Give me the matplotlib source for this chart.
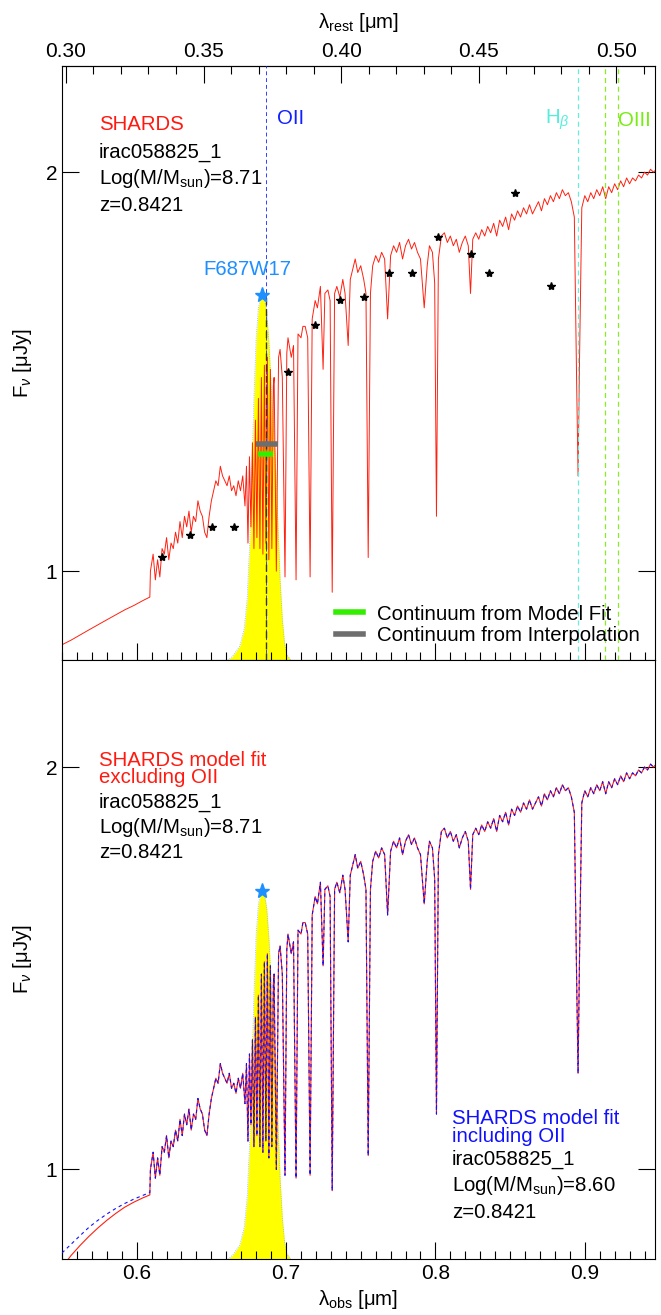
import numpy as np
import matplotlib
matplotlib.use('Agg')
import matplotlib.pyplot as plt
from matplotlib.ticker import MultipleLocator, FixedLocator, NullLocator, FormatStrFormatter
from matplotlib.lines import Line2D

plt.rcParams['font.family'] = ['Liberation Sans', 'DejaVu Sans']
plt.rcParams['mathtext.fontset'] = 'custom'
plt.rcParams['mathtext.rm'] = 'Liberation Sans'
plt.rcParams['mathtext.it'] = 'Liberation Sans:italic'
plt.rcParams['mathtext.bf'] = 'Liberation Sans:bold'

Z = 0.8421

# ---------------- data ----------------
spec_wl = [0.550, 0.556, 0.562, 0.568, 0.574, 0.580, 0.586, 0.592, 0.598, 0.604, 0.6088,
           0.6092, 0.611, 0.6125, 0.614, 0.6155, 0.617, 0.6185, 0.620, 0.6215, 0.623, 0.6245,
           0.626, 0.6275, 0.629, 0.6305, 0.632, 0.6335, 0.635, 0.6365, 0.638, 0.6395, 0.641,
           0.6425, 0.644, 0.6455, 0.647, 0.6485, 0.650, 0.6515, 0.653, 0.6545, 0.656, 0.6575,
           0.659, 0.6605, 0.662, 0.6635, 0.665, 0.6665, 0.668, 0.6695, 0.671,
           0.6725, 0.6735, 0.6745, 0.6755, 0.6765, 0.6775, 0.6785, 0.6795, 0.6805, 0.6815,
           0.6825, 0.6835, 0.6845, 0.6855, 0.6865, 0.6875, 0.6885, 0.6895, 0.6905, 0.6915, 0.692,
           0.6935, 0.695, 0.696, 0.6975, 0.6993, 0.7005, 0.7013, 0.7035, 0.705, 0.7067, 0.708,
           0.710, 0.7113, 0.7128, 0.7145, 0.7161, 0.7175, 0.7195, 0.721, 0.723, 0.7248, 0.726,
           0.728, 0.7295, 0.7309, 0.7325, 0.734, 0.736, 0.738, 0.7395, 0.7416, 0.743, 0.7463,
           0.748, 0.750, 0.752, 0.7535, 0.755, 0.7565, 0.758, 0.760, 0.762, 0.764, 0.766, 0.768,
           0.770, 0.772, 0.774, 0.776, 0.778, 0.780, 0.782, 0.784, 0.786, 0.788, 0.790, 0.7925,
           0.7945, 0.796, 0.798, 0.7995, 0.8007, 0.802, 0.804, 0.806, 0.808, 0.810, 0.812, 0.814,
           0.816, 0.818, 0.820, 0.822, 0.8235, 0.825, 0.827, 0.829, 0.831, 0.833, 0.835, 0.837,
           0.839, 0.841, 0.843, 0.845, 0.847, 0.849, 0.851, 0.853, 0.855, 0.857, 0.859, 0.861,
           0.863, 0.865, 0.867, 0.869, 0.871, 0.873, 0.875, 0.877, 0.879, 0.881, 0.883, 0.885,
           0.887, 0.889, 0.891, 0.893, 0.8945, 0.8955, 0.8965, 0.898, 0.900, 0.902, 0.904, 0.906,
           0.908, 0.910, 0.912, 0.914, 0.916, 0.918, 0.920, 0.922, 0.924, 0.926, 0.928, 0.930,
           0.932, 0.934, 0.936, 0.938, 0.940, 0.942, 0.944, 0.946, 0.948]
spec_fx = [0.880, 0.887, 0.895, 0.903, 0.911, 0.919, 0.927, 0.935, 0.942, 0.950, 0.956,
           1.00, 1.03, 0.985, 1.02, 0.99, 1.04, 1.03, 1.06, 1.02, 1.05,
           1.04, 1.07, 1.05, 1.09, 1.06, 1.10, 1.08, 1.11, 1.07, 1.10, 1.09, 1.13,
           1.11, 1.10, 1.07, 1.06, 1.10, 1.13, 1.15, 1.17, 1.16, 1.20, 1.18,
           1.17, 1.16, 1.18, 1.15, 1.16, 1.14, 1.17, 1.15, 1.18,
           1.12, 1.20, 1.05, 1.22, 1.08, 1.25, 1.04, 1.30, 1.06, 1.35,
           1.04, 1.40, 1.03, 1.43, 1.05, 1.45, 1.02, 1.42, 1.04, 1.38, 1.40,
           1.00, 1.45, 1.47, 1.40, 0.99, 1.46, 1.50, 1.45, 1.48, 0.985, 1.51,
           1.50, 1.53, 1.53, 1.50, 0.99, 1.55, 1.60, 1.58, 1.64, 1.42, 1.62,
           1.63, 1.60, 0.964, 1.62, 1.64, 1.61, 1.66, 1.62, 1.48, 1.66, 1.72,
           1.68, 1.70, 1.66, 1.62, 1.024, 1.62, 1.70, 1.73, 1.71, 1.74, 1.72, 1.55,
           1.73, 1.76, 1.74, 1.77, 1.72, 1.76, 1.78, 1.75, 1.77, 1.74, 1.72, 1.58,
           1.70, 1.76, 1.74, 1.65, 1.10, 1.72, 1.79, 1.80, 1.77, 1.79, 1.76, 1.78,
           1.74, 1.77, 1.79, 1.76, 1.62, 1.78, 1.80, 1.78, 1.81, 1.79, 1.82, 1.80,
           1.83, 1.79, 1.84, 1.82, 1.85, 1.81, 1.86, 1.84, 1.87, 1.85, 1.88, 1.86,
           1.89, 1.86, 1.88, 1.90, 1.87, 1.91, 1.89, 1.92, 1.90, 1.93, 1.91, 1.94,
           1.92, 1.93, 1.90, 1.85, 1.40, 1.18, 1.45, 1.88, 1.92, 1.90, 1.93, 1.91,
           1.94, 1.92, 1.95, 1.91, 1.95, 1.93, 1.96, 1.94, 1.97, 1.95, 1.98, 1.96,
           1.98, 1.97, 1.99, 1.98, 2.00, 1.99, 2.01, 2.00, 2.01]

# bottom panel models (same wavelength grid as spec_wl)
model_red_fx = [0.845, 0.862, 0.877, 0.891, 0.904, 0.916, 0.927, 0.937, 0.945, 0.952, 0.957] + spec_fx[11:]
model_blue_fx = [0.866, 0.879, 0.892, 0.905, 0.916, 0.926, 0.935, 0.943, 0.950, 0.956, 0.961] + spec_fx[11:]

# SHARDS photometry (black stars)
phot_wl = [0.6168, 0.6356, 0.6503, 0.6651, 0.7013, 0.7195, 0.7362, 0.7523, 0.7691,
           0.7846, 0.8020, 0.8235, 0.8362, 0.8530, 0.8772]
phot_fx = [1.025, 1.065, 1.079, 1.079, 1.413, 1.533, 1.601, 1.610, 1.678,
           1.680, 1.786, 1.735, 1.680, 1.928, 1.640]

# F687W17 filter
band_wl, band_fx = 0.6839, 1.615
filt_wl = [0.6610, 0.6640, 0.6690, 0.6720, 0.6740, 0.6760, 0.6772, 0.6785, 0.6800, 0.6815,
           0.6830, 0.6840, 0.6855, 0.6870, 0.6885, 0.6900, 0.6925, 0.6945, 0.6960, 0.6975,
           0.6990, 0.7005, 0.7030]
filt_fx = [0.857, 0.862, 0.878, 0.905, 0.955, 1.070, 1.200, 1.350, 1.500, 1.580,
           1.610, 1.615, 1.605, 1.570, 1.490, 1.380, 1.230, 1.090, 0.985, 0.920,
           0.882, 0.865, 0.857]

# continuum estimates (lambda_min, lambda_max, flux)
cont_model = (0.6810, 0.6910, 1.225)
cont_interp = (0.6799, 0.6946, 1.247)

# emission lines (rest, micron)
line_oii = 0.3727
line_hb = 0.4861
line_oiii = [0.4959, 0.5007]

rest_ticks = [0.30, 0.35, 0.40, 0.45, 0.50]

# ---------------- plotting ----------------
YLIM = (0.857, 2.405)
XLIM = (0.55, 0.947)
FS = 14.7
TFS = 15

fig = plt.figure(figsize=(6.61, 13.15), dpi=100)
ax1 = fig.add_axes([0.0938, 0.4981, 0.8971, 0.4517])
ax2 = fig.add_axes([0.0938, 0.0426, 0.8971, 0.4555])

for ax in (ax1, ax2):
    ax.set_yscale('log')
    ax.set_xlim(*XLIM)
    ax.set_ylim(*YLIM)
    ax.yaxis.set_major_locator(FixedLocator([1, 2]))
    ax.yaxis.set_major_formatter(FormatStrFormatter('%d'))
    ax.yaxis.set_minor_locator(NullLocator())
    ax.xaxis.set_major_locator(MultipleLocator(0.1))
    ax.xaxis.set_minor_locator(MultipleLocator(0.01))
    ax.tick_params(which='both', direction='in', labelsize=TFS, width=0.8)
    ax.tick_params(which='major', length=12)
    ax.tick_params(which='minor', length=6)
    ax.tick_params(axis='y', left=True, right=True)
    ax.tick_params(axis='x', top=False, bottom=True)
    for s in ax.spines.values():
        s.set_linewidth(0.8)
    ax.set_ylabel(r'F$_\nu$ [μJy]', fontsize=FS, labelpad=8)

ax1.tick_params(axis='x', labelbottom=False)
ax2.xaxis.set_major_formatter(FormatStrFormatter('%.1f'))
ax2.set_xlabel(r'λ$_{\mathrm{obs}}$ [μm]', fontsize=FS, labelpad=4)

sec = ax1.secondary_xaxis('top', functions=(lambda x: x / (1 + Z), lambda x: x * (1 + Z)))
sec.xaxis.set_major_locator(FixedLocator(rest_ticks))
sec.xaxis.set_minor_locator(FixedLocator([0.30 + 0.01 * i for i in range(22)]))
sec.xaxis.set_major_formatter(FormatStrFormatter('%.2f'))
sec.tick_params(which='both', direction='in', labelsize=TFS, width=0.8)
sec.tick_params(which='major', length=12)
sec.tick_params(which='minor', length=6)
sec.set_xlabel(r'λ$_{\mathrm{rest}}$ [μm]', fontsize=FS, labelpad=10)

# ---- top panel ----
ax1.fill_between(filt_wl, filt_fx, YLIM[0], color='#ffff00', lw=0, zorder=1)
ax1.plot(filt_wl, filt_fx, ls=':', color='#8fb8e8', lw=0.6, zorder=1.5)
ax1.plot(spec_wl, spec_fx, color='#ff2010', lw=0.7, zorder=2)
ax1.plot(phot_wl, phot_fx, ls='none', marker='*', color='black', ms=6, zorder=4)

oii_obs = line_oii * (1 + Z)
ax1.axvline(oii_obs, color='#3040ff', ls=(0, (4, 3)), lw=0.7, zorder=3)
ax1.plot([oii_obs, oii_obs], [YLIM[0], band_fx], color='#333333', ls=(0, (5, 3)), lw=1.0, zorder=3)
ax1.axvline(line_hb * (1 + Z), color='#66eedd', ls=(0, (4, 3)), lw=0.9, zorder=3)
for l in line_oiii:
    ax1.axvline(l * (1 + Z), color='#88ee22', ls=(0, (4, 3)), lw=0.9, zorder=3)

ax1.plot([cont_interp[0], cont_interp[1]], [cont_interp[2]] * 2, color='#6e6e6e', lw=4,
         solid_capstyle='butt', zorder=5)
ax1.plot([cont_model[0], cont_model[1]], [cont_model[2]] * 2, color='#33ee00', lw=4,
         solid_capstyle='butt', zorder=5)
ax1.plot(band_wl, band_fx, ls='none', marker='*', color='#1e8fff', ms=11, zorder=6)

t = ax1.transAxes
ax1.text(0.0624, 0.902, 'SHARDS', color='#ff1a10', fontsize=FS, va='center', transform=t)
ax1.text(0.0624, 0.855, 'irac058825_1', color='black', fontsize=FS, va='center', transform=t)
ax1.text(0.0624, 0.811, r'Log(M/M$_{\mathrm{sun}}$)=8.71', color='black', fontsize=FS, va='center', transform=t)
ax1.text(0.0624, 0.766, 'z=0.8421', color='black', fontsize=FS, va='center', transform=t)
ax1.text(0.3626, 0.912, 'OII', color='#1020ff', fontsize=FS, va='center', transform=t)
ax1.text(0.312, 0.657, 'F687W17', color='#1e8fff', fontsize=FS, va='center', ha='center', transform=t)
ax1.text(0.8145, 0.909, r'H$_\beta$', color='#55eedd', fontsize=FS, va='center', transform=t)
ax1.text(0.9376, 0.909, 'OIII', color='#77ee11', fontsize=FS, va='center', transform=t)

handles = [Line2D([], [], color='#33ee00', lw=4), Line2D([], [], color='#6e6e6e', lw=4)]
ax1.legend(handles, ['Continuum from Model Fit', 'Continuum from Interpolation'], loc='lower right',
           frameon=False, fontsize=FS, handlelength=1.3, handletextpad=0.7, labelspacing=0.1,
           borderaxespad=0.35)

# ---- bottom panel ----
ax2.fill_between(filt_wl, filt_fx, YLIM[0], color='#ffff00', lw=0, zorder=1)
ax2.plot(filt_wl, filt_fx, ls=':', color='#8fb8e8', lw=0.6, zorder=1.5)
ax2.plot(spec_wl, model_red_fx, color='#ff2010', lw=0.8, zorder=2)
ax2.plot(spec_wl, model_blue_fx, color='#1010ff', lw=0.8, ls=(0, (3, 3)), zorder=3)
ax2.plot(band_wl, band_fx, ls='none', marker='*', color='#1e8fff', ms=11, zorder=6)

t2 = ax2.transAxes
ax2.text(0.0624, 0.833, 'SHARDS model fit', color='#ff1a10', fontsize=FS, va='center', transform=t2)
ax2.text(0.0624, 0.803, 'excluding OII', color='#ff1a10', fontsize=FS, va='center', transform=t2)
ax2.text(0.0624, 0.763, 'irac058825_1', color='black', fontsize=FS, va='center', transform=t2)
ax2.text(0.0624, 0.721, r'Log(M/M$_{\mathrm{sun}}$)=8.71', color='black', fontsize=FS, va='center', transform=t2)
ax2.text(0.0624, 0.678, 'z=0.8421', color='black', fontsize=FS, va='center', transform=t2)
ax2.text(0.6577, 0.2337, 'SHARDS model fit', color='#1010ff', fontsize=FS, va='center', transform=t2)
ax2.text(0.6577, 0.205, 'including OII', color='#1010ff', fontsize=FS, va='center', transform=t2)
ax2.text(0.6577, 0.167, 'irac058825_1', color='black', fontsize=FS, va='center', transform=t2)
ax2.text(0.6577, 0.122, r'Log(M/M$_{\mathrm{sun}}$)=8.60', color='black', fontsize=FS, va='center', transform=t2)
ax2.text(0.6577, 0.078, 'z=0.8421', color='black', fontsize=FS, va='center', transform=t2)

fig.savefig('out.png', dpi=100)
